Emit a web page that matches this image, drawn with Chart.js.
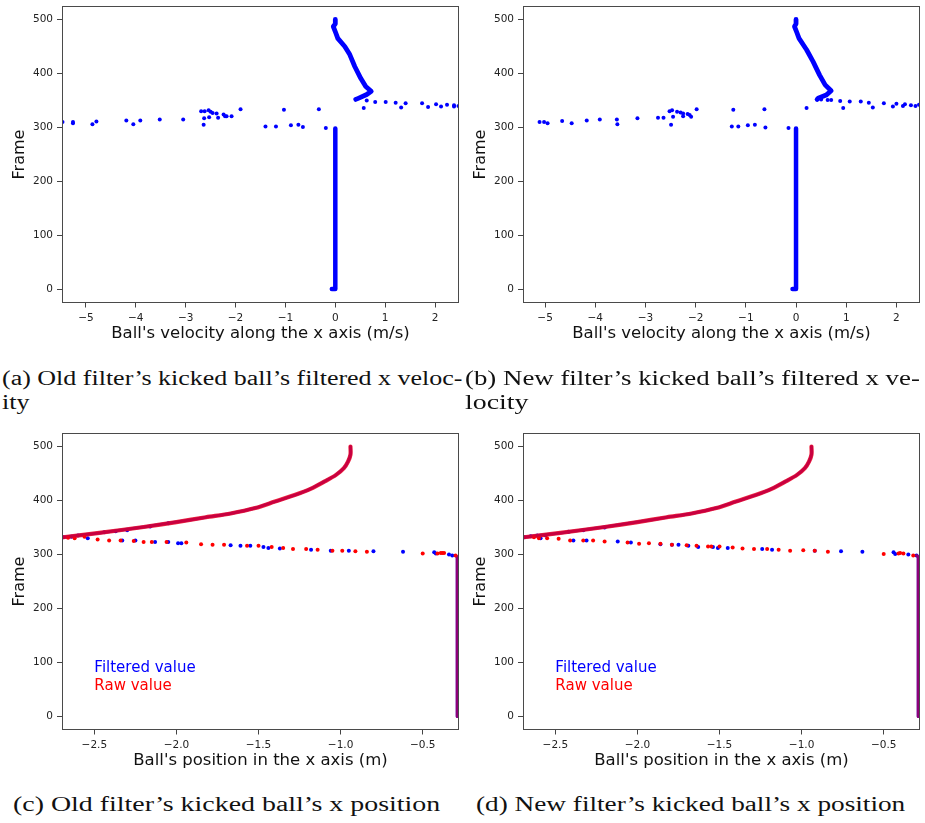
<!DOCTYPE html>
<html>
<head>
<meta charset="utf-8">
<script src="https://cdn.jsdelivr.net/npm/chart.js@4.4.0/dist/chart.umd.min.js"></script>
<style>
  body { margin: 0; background: #fff; width: 925px; height: 823px; position: relative; overflow: hidden; }
  canvas { position: absolute; }
  .cap { position: absolute; font-family: "Liberation Serif", serif; font-size: 20px; line-height: 24px;
         white-space: nowrap; color: #111; transform-origin: 0 0; }
</style>
</head>
<body>
<canvas id="pa" width="464" height="345" style="left:0;top:0"></canvas>
<canvas id="pb" width="464" height="345" style="left:461px;top:0"></canvas>
<canvas id="pc" width="464" height="352" style="left:0;top:420px"></canvas>
<canvas id="pd" width="464" height="352" style="left:461px;top:420px"></canvas>

<div class="cap" data-w="461" style="left:2px;top:366px">(a) Old filter’s kicked ball’s filtered x veloc-</div>
<div class="cap" data-ref="0" style="left:2px;top:390px">ity</div>
<div class="cap" data-w="455" style="left:465px;top:366px">(b) New filter’s kicked ball’s filtered x ve-</div>
<div class="cap" data-ref="4" style="left:465px;top:390px">locity</div>
<div class="cap" data-w="427" style="left:13px;top:792px">(c) Old filter’s kicked ball’s x position</div>
<div class="cap" data-w="429" style="left:476px;top:792px">(d) New filter’s kicked ball’s x position</div>

<script>
// ---- tick labels ----
const velTicks = [-5, -4, -3, -2, -1, 0, 1, 2];
const posTicks = [-2.5, -2.0, -1.5, -1.0, -0.5];
const frameTicks = [0, 100, 200, 300, 400, 500];

// ---- (a) old filter, velocity ----
const aStemX = [-0.07, 0, 0, 0];
const aStemY = [1, 1, 150, 298];
const aTrailX = [0.41, 0.46, 0.63, 0.72, 0.61, 0.51, 0.39, 0.29, 0.19, 0.05, 0.01, -0.04, 0.0, 0.0];
const aTrailY = [352, 354, 361, 367, 376, 391, 413, 435, 450, 465, 475, 487, 492, 500];
const aDotX = [-5.47, -5.26, -5.26, -4.87, -4.79, -4.19, -4.05, -3.91, -3.52, -3.05, -2.69, -2.62, -2.63, -2.64,
  -2.54, -2.50, -2.46, -2.53, -2.38, -2.35, -2.24, -2.21, -2.18, -2.08, -1.90, -1.40, -1.19, -1.03, -0.89,
  -0.74, -0.65, -0.33, -0.19, 0.57, 0.63, 0.80, 1.01, 1.21, 1.32, 1.41, 1.74, 1.86, 2.02, 2.12, 2.24, 2.38, 2.38, 2.47];
const aDotY = [310, 310, 308, 306, 311, 313, 306, 313, 315, 315, 330, 330, 317, 305,
  332, 329, 327, 319, 326, 318, 324, 321, 321, 321, 334, 302, 302, 333, 304,
  305, 301, 334, 299, 336, 350, 347, 347, 346, 337, 345, 345, 338, 343, 339, 342, 341, 339, 340];

// ---- (b) new filter, velocity ----
const bStemX = [-0.07, 0, 0, 0];
const bStemY = [1, 1, 150, 298];
const bTrailX = [0.42, 0.44, 0.60, 0.70, 0.58, 0.47, 0.34, 0.21, 0.06, 0.02, -0.03, 0.0, 0.0];
const bTrailY = [352, 354, 360, 368, 379, 397, 422, 444, 465, 475, 487, 492, 500];
const bDotX = [-5.11, -5.02, -4.95, -4.66, -4.47, -4.17, -3.91, -3.57, -3.56, -3.16, -2.75, -2.64, -2.52, -2.47,
  -2.49, -2.45, -2.37, -2.30, -2.25, -2.25, -2.16, -2.12, -2.09, -1.98, -1.28, -1.25, -1.15, -0.96, -0.82,
  -0.63, -0.61, -0.15, 0.21, 0.50, 0.63, 0.70, 0.88, 0.94, 1.07, 1.29, 1.45, 1.53, 1.75, 1.93, 2.00, 2.13,
  2.17, 2.29, 2.38, 2.45];
const bDotY = [310, 310, 308, 312, 308, 313, 315, 315, 306, 317, 318, 318, 330, 332,
  305, 320, 329, 328, 326, 321, 325, 323, 320, 334, 302, 333, 302, 304, 305,
  334, 300, 299, 336, 352, 351, 351, 349, 336, 348, 348, 346, 337, 345, 339, 344, 340,
  343, 341, 340, 342];

// ---- (c) old filter, position ----
const cCurveX = [-2.69, -2.47, -2.20, -2.00, -1.82, -1.67, -1.52, -1.40, -1.28, -1.18, -1.10, -1.03, -0.98, -0.955, -0.94, -0.94];
const cCurveY = [332, 340, 351, 360, 369, 376, 386, 398, 410, 422, 435, 447, 460, 472, 485, 500];
const cStemX = [-0.30, -0.29, -0.29];
const cStemY = [298, 296, 0];
const cRawX = [-2.66, -2.62, -2.56, -2.48, -2.41, -2.34, -2.26, -2.20, -2.15, -2.06, -1.94, -1.85, -1.78, -1.71,
  -1.57, -1.50, -1.42, -1.35, -1.29, -1.21, -1.14, -1.05, -0.99, -0.91, -0.84, -0.50, -0.41, -0.39, -0.38, -0.37, -0.30];
const cRawY = [331, 330, 333, 328, 326, 326, 325, 323, 323, 323, 322, 319, 318, 318,
  316, 316, 314, 312, 310, 310, 309, 307, 307, 306, 305, 302, 302, 303, 303, 303, 298];
const cFiltX = [-2.69, -2.64, -2.60, -2.54, -2.44, -2.37, -2.30, -2.16, -2.05, -2.33, -2.25, -2.13, -2.05, -1.99,
  -1.97, -1.67, -1.61, -1.55, -1.47, -1.44, -1.37, -1.18, -1.06, -0.95, -0.80, -0.62, -0.43, -0.42, -0.34, -0.32];
const cFiltY = [332, 333, 335, 330, 341, 343, 345, 352, 358, 326, 326, 323, 323, 321,
  321, 317, 316, 316, 314, 312, 311, 309, 307, 307, 306, 305, 304, 302, 300, 298];

// ---- (d) new filter, position ----
const dCurveX = [-2.69, -2.47, -2.20, -2.00, -1.82, -1.67, -1.52, -1.40, -1.28, -1.18, -1.10, -1.03, -0.98, -0.955, -0.94, -0.94];
const dCurveY = [332, 340, 351, 360, 369, 376, 386, 398, 410, 422, 435, 447, 460, 472, 485, 500];
const dStemX = [-0.30, -0.29, -0.29];
const dStemY = [298, 296, 0];
const dRawX = [-2.63, -2.60, -2.55, -2.48, -2.41, -2.33, -2.27, -2.20, -2.06, -1.99, -1.93, -1.86, -1.79, -1.70,
  -1.64, -1.57, -1.55, -1.50, -1.42, -1.36, -1.29, -1.21, -1.14, -1.07, -0.99, -0.92, -0.84, -0.50, -0.41, -0.40, -0.38, -0.32];
const dRawY = [332, 330, 330, 329, 326, 326, 326, 324, 322, 320, 321, 320, 318, 317,
  316, 315, 315, 315, 313, 311, 310, 310, 309, 307, 308, 307, 305, 301, 302, 303, 302, 298];
const dFiltX = [-2.69, -2.65, -2.61, -2.59, -2.56, -2.39, -2.31, -2.12, -2.04, -1.86, -1.79, -1.75, -1.69, -1.63,
  -1.54, -1.51, -1.45, -1.24, -1.18, -0.92, -0.76, -0.63, -0.44, -0.43, -0.35, -0.30, -2.42, -2.33, -2.20];
const dFiltY = [332, 334, 335, 330, 335, 326, 326, 324, 322, 319, 318, 318, 316, 314,
  314, 312, 312, 310, 309, 307, 306, 305, 304, 301, 300, 298, 342, 345, 350];

const BLUE = 'rgb(0,0,255)';
const RED = 'rgb(255,0,0)';
const RED_OVER = 'rgba(235,0,30,0.85)';
const pts = (xs, ys) => xs.map((x, i) => ({ x, y: ys[i] }));
const minus = (v, d) => (v < 0 ? '\u2212' : '') + Math.abs(v).toFixed(d);

const tickFont = { family: 'DejaVu Sans', size: 10.5 };
const xTitleFont = { family: 'DejaVu Sans', size: 16.5 };
const yTitleFont = { family: 'DejaVu Sans', size: 16 };

// box around the plot area, like matplotlib spines
const frame = {
  id: 'frame',
  afterDraw(chart) {
    const { ctx, chartArea: a } = chart;
    ctx.save();
    ctx.strokeStyle = '#4a4a4a';
    ctx.lineWidth = 1;
    ctx.strokeRect(Math.round(a.left) + 0.5, Math.round(a.top) + 0.5,
      Math.round(a.right - a.left) - 1, Math.round(a.bottom - a.top) - 1);
    ctx.restore();
  }
};

// text labels placed in data coordinates
const notes = {
  id: 'notes',
  afterDatasetsDraw(chart, args, opts) {
    if (!opts.items) return;
    const { ctx, scales } = chart;
    ctx.save();
    ctx.font = '15px "DejaVu Sans"';
    ctx.textBaseline = 'alphabetic';
    opts.items.forEach(it => {
      ctx.fillStyle = it.color;
      ctx.fillText(it.text, scales.x.getPixelForValue(it.x), scales.y.getPixelForValue(it.y));
    });
    ctx.restore();
  }
};

function lineSet(xs, ys, color, width, order, tension) {
  return { data: pts(xs, ys), showLine: true, borderColor: color, borderWidth: width, pointRadius: 0,
    borderCapStyle: 'round', borderJoinStyle: 'round', tension: tension || 0, order };
}
function dotSet(xs, ys, color, order) {
  return { data: pts(xs, ys), showLine: false, backgroundColor: color, borderWidth: 0, pointRadius: 2, order };
}

function makePanel(id, datasets, xr, xTicks, dec, xTitle, topPad, items) {
  new Chart(document.getElementById(id), {
    type: 'scatter',
    data: { datasets },
    plugins: [frame, notes],
    options: {
      responsive: false,
      animation: false,
      layout: { padding: { top: topPad, right: 5, left: 0, bottom: 0 } },
      plugins: { legend: { display: false }, tooltip: { enabled: false }, notes: { items } },
      scales: {
        x: {
          type: 'linear', min: xr[0], max: xr[1],
          afterBuildTicks: ax => { ax.ticks = xTicks.map(v => ({ value: v })); },
          afterFit: ax => { ax.height = 42; ax.paddingLeft = 0; ax.paddingRight = 0; },
          ticks: { callback: v => minus(v, dec), font: tickFont, color: '#222', padding: 4, maxRotation: 0, autoSkip: false },
          grid: { drawOnChartArea: false, tickLength: 4.5, tickColor: '#444' },
          border: { display: false },
          title: { display: true, text: xTitle, font: xTitleFont, color: '#111', padding: { top: 0, bottom: 1 } }
        },
        y: {
          type: 'linear', min: -25, max: 525,
          afterBuildTicks: ax => { ax.ticks = frameTicks.map(v => ({ value: v })); },
          afterFit: ax => { ax.width = 62; ax.paddingTop = 0; ax.paddingBottom = 0; },
          ticks: { callback: v => minus(v, 0), font: tickFont, color: '#222', padding: 4, autoSkip: false },
          grid: { drawOnChartArea: false, tickLength: 5, tickColor: '#444' },
          border: { display: false },
          title: { display: true, text: 'Frame', font: yTitleFont, color: '#111', padding: { top: 10.5, bottom: 0 } }
        }
      }
    }
  });
}

const velTitle = "Ball's velocity along the x axis (m/s)";
const posTitle = "Ball's position in the x axis (m)";

makePanel('pa', [
  lineSet(aStemX, aStemY, BLUE, 4.5, 1),
  lineSet(aTrailX, aTrailY, BLUE, 4.8, 1),
  dotSet(aDotX, aDotY, BLUE, 0)
], [-5.48, 2.48], velTicks, 0, velTitle, 6, null);

makePanel('pb', [
  lineSet(bStemX, bStemY, BLUE, 4.5, 1),
  lineSet(bTrailX, bTrailY, BLUE, 4.8, 1),
  dotSet(bDotX, bDotY, BLUE, 0)
], [-5.44, 2.47], velTicks, 0, velTitle, 6, null);

const legendItems = [
  { text: 'Filtered value', color: BLUE, x: -2.5, y: 83 },
  { text: 'Raw value', color: RED, x: -2.5, y: 49 }
];

makePanel('pc', [
  lineSet(cCurveX, cCurveY, RED_OVER, 4.2, 0, 0.3),
  lineSet(cStemX, cStemY, 'rgba(235,0,30,0.6)', 3, 0),
  dotSet(cRawX, cRawY, RED, 1),
  lineSet(cCurveX, cCurveY, BLUE, 3, 2, 0.3),
  lineSet(cStemX, cStemY, BLUE, 3, 2),
  dotSet(cFiltX, cFiltY, BLUE, 3)
], [-2.697, -0.279], posTicks, 1, posTitle, 13, legendItems);

makePanel('pd', [
  lineSet(dCurveX, dCurveY, RED_OVER, 4.2, 0, 0.3),
  lineSet(dStemX, dStemY, 'rgba(235,0,30,0.6)', 3, 0),
  dotSet(dRawX, dRawY, RED, 1),
  lineSet(dCurveX, dCurveY, BLUE, 3, 2, 0.3),
  lineSet(dStemX, dStemY, BLUE, 3, 2),
  dotSet(dFiltX, dFiltY, BLUE, 3)
], [-2.697, -0.279], posTicks, 1, posTitle, 13, legendItems);

// stretch the serif captions to the widths of the typeset originals
const caps = Array.from(document.querySelectorAll('.cap'));
const scales = [];
caps.forEach((el, i) => {
  if (el.dataset.w) {
    scales[i] = +el.dataset.w / el.offsetWidth;
  }
});
caps.forEach((el, i) => {
  const s = el.dataset.w ? scales[i] : scales[+el.dataset.ref];
  el.style.transform = 'scaleX(' + s.toFixed(3) + ')';
});
</script>
</body>
</html>
